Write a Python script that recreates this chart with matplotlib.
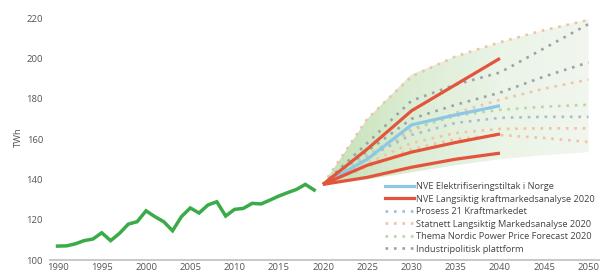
import numpy as np
import matplotlib
matplotlib.use("Agg")
import matplotlib.pyplot as plt
from matplotlib.colors import LinearSegmentedColormap
from matplotlib.lines import Line2D

plt.rcParams['font.family'] = ['Open Sans', 'DejaVu Sans']

# ---------------- data ----------------
hist_years = list(range(1990, 2020))
hist_values = [106.9, 107.0, 108.0, 109.6, 110.4, 113.5, 109.6, 113.2, 117.8, 119.0,
               124.4, 121.5, 119.0, 114.5, 121.5, 125.8, 123.3, 127.3, 128.9, 121.8,
               125.1, 125.6, 128.1, 127.8, 129.7, 131.7, 133.4, 135.0, 137.5, 134.7]

fc_years = [2020, 2025, 2030, 2035, 2040]
fc_years_long = [2020, 2025, 2030, 2035, 2040, 2045, 2050]

nve_elektrifisering = [137.5, 150.0, 167.0, 172.0, 176.5]
nve_lang_high = [137.5, 155.0, 174.0, 187.0, 200.0]
nve_lang_base = [137.5, 147.0, 153.5, 158.3, 162.5]
nve_lang_low = [137.5, 141.0, 146.0, 150.0, 153.0]

prosess21 = [137.5, 151.0, 162.0, 168.0, 170.5, 171.0, 171.0]
statnett_high = [137.5, 170.0, 191.0, 201.0, 208.0, 214.0, 219.0]
statnett_mid = [137.5, 150.0, 164.0, 173.0, 179.5, 185.0, 189.5]
statnett_low = [137.5, 148.0, 158.0, 163.0, 165.0, 165.3, 165.3]
statnett_min = [137.5, 146.0, 155.0, 160.0, 162.0, 160.5, 158.5]
thema = [137.5, 152.0, 165.0, 171.5, 174.5, 176.0, 177.0]
industri_high = [137.5, 158.0, 179.0, 187.0, 193.0, 205.0, 217.0]
industri_low = [137.5, 154.0, 170.0, 177.0, 183.0, 191.0, 198.0]

band_upper = [137.5, 170.0, 192.0, 201.0, 208.0, 214.0, 219.5]
band_lower = [137.5, 140.0, 143.5, 147.0, 150.0, 152.0, 153.5]

legend_labels = ["NVE Elektrifiseringstiltak i Norge",
                 "NVE Langsiktig kraftmarkedsanalyse 2020",
                 "Prosess 21 Kraftmarkedet",
                 "Statnett Langsiktig Markedsanalyse 2020",
                 "Thema Nordic Power Price Forecast 2020",
                 "Industripolitisk plattform"]

x_ticks = list(range(1990, 2051, 5))
y_ticks = [100, 120, 140, 160, 180, 200, 220]

# ---------------- figure ----------------
W, H = 600, 271
fig = plt.figure(figsize=(W / 100, H / 100), dpi=100)
ax = fig.add_axes([50 / W, 1 - 260 / H, 550 / W, (260 - 14) / H])
ax.set_xlim(1989.15, 2051.3)
ax.set_ylim(100, 222)

# gradient band
poly = ax.fill_between(fc_years_long, band_lower, band_upper, color='none', lw=0)
cmap = LinearSegmentedColormap.from_list('g', ['#c2e1b6', '#dcedd4', '#ebf4e7', '#f1f6ee'])
grad = np.linspace(0, 1, 256).reshape(1, -1)
im = ax.imshow(grad, extent=[2020, 2050, 137, 220], aspect='auto', cmap=cmap,
               origin='lower', zorder=1, interpolation='bilinear')
im.set_clip_path(poly.get_paths()[0], transform=ax.transData)

dot = dict(lw=1.9, linestyle=(0, (1, 2.2)), dash_capstyle='butt')
c_grey = '#9aa3ab'
c_orange = '#f2c2a4'
c_green = '#b4d8a4'
c_bluegrey = '#a9bccb'

for series, col in [(statnett_high, c_orange), (statnett_mid, c_orange),
                    (statnett_low, c_orange), (statnett_min, c_orange),
                    (industri_high, c_grey), (industri_low, c_grey),
                    (prosess21, c_bluegrey), (thema, c_green)]:
    ax.plot(fc_years_long, series, color=col, zorder=2, **dot)

c_red = '#e2553c'
c_blue = '#8cc8e6'
ax.plot(fc_years, nve_elektrifisering, color=c_blue, lw=2.3, zorder=3, solid_capstyle='butt')
for series in [nve_lang_high, nve_lang_base, nve_lang_low]:
    ax.plot(fc_years, series, color=c_red, lw=2.3, zorder=3, solid_capstyle='butt')

ax.plot(hist_years, hist_values, color='#3bab4a', lw=2.5, zorder=4,
        solid_joinstyle='miter')

# axes styling
for s in ['top', 'right', 'left']:
    ax.spines[s].set_visible(False)
ax.spines['bottom'].set_color('#c4c4c4')
ax.spines['bottom'].set_linewidth(1.3)
ax.set_xticks(x_ticks)
ax.set_yticks(y_ticks)
ax.tick_params(axis='both', length=0, labelsize=6.8, colors='#555555')
ax.tick_params(axis='x', pad=2)
ax.tick_params(axis='y', pad=5)
ax.set_ylabel('TWh', fontsize=6.8, color='#555555', labelpad=3)

# legend
handles = [
    Line2D([], [], color=c_blue, lw=2.3),
    Line2D([], [], color=c_red, lw=2.3),
    Line2D([], [], color=c_bluegrey, **dot),
    Line2D([], [], color=c_orange, **dot),
    Line2D([], [], color=c_green, **dot),
    Line2D([], [], color=c_grey, **dot),
]
leg = fig.legend(handles, legend_labels, loc='upper left',
                 bbox_to_anchor=(385 / W, 1 - 182 / H), frameon=False,
                 fontsize=6.7, handlelength=3.1, handletextpad=0.25,
                 labelspacing=0.38, borderpad=0, borderaxespad=0)
for t in leg.get_texts():
    t.set_color('#444444')

fig.savefig('out.png', dpi=100)
